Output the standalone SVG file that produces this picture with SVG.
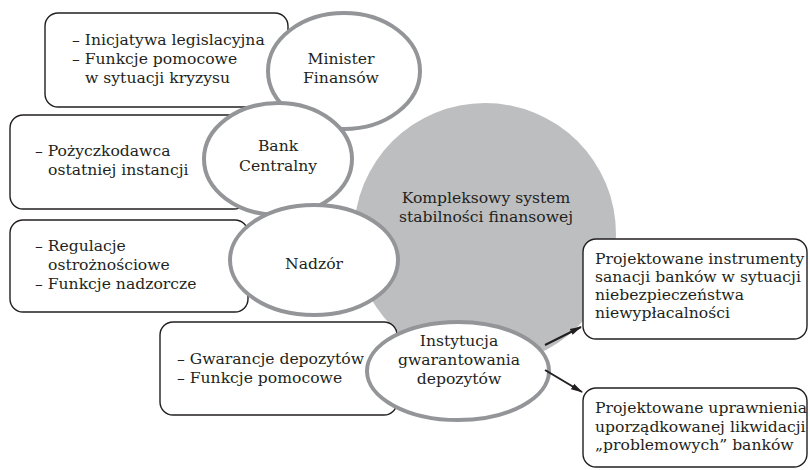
<svg xmlns="http://www.w3.org/2000/svg" width="810" height="470" viewBox="0 0 810 470">
<defs>
<style>
.box{fill:#fff;stroke:#231f20;stroke-width:1.4}
.ell{fill:#fff;stroke:#939598;stroke-width:4}
.big{fill:#bcbec0}
text{font-family:"DejaVu Serif","Liberation Serif",serif;font-size:15.6px;fill:#231f20}
.c{text-anchor:middle}
.conn{stroke:#231f20;stroke-width:2;fill:none}
</style>
<marker id="arr" markerWidth="12" markerHeight="8" refX="11" refY="4" orient="auto" markerUnits="userSpaceOnUse">
<path d="M0,0.8 L12,4 L0,7.2 z" fill="#231f20"/>
</marker>
</defs>
<rect width="810" height="470" fill="#fff"/>

<g id="system">
<circle class="big" cx="485" cy="234" r="131"/>
<text class="c" x="486" y="203">Kompleksowy system</text>
<text class="c" x="486" y="222">stabilności finansowej</text>
</g>

<g id="box-minister">
<rect class="box" x="45" y="13" width="243" height="94" rx="13"/>
<text x="72" y="45">– Inicjatywa legislacyjna</text>
<text x="72" y="64">– Funkcje pomocowe</text>
<text x="85" y="83">w sytuacji kryzysu</text>
</g>

<g id="box-bank">
<rect class="box" x="10" y="115" width="237" height="94" rx="13"/>
<text x="35" y="156">– Pożyczkodawca</text>
<text x="48" y="175">ostatniej instancji</text>
</g>

<g id="box-nadzor">
<rect class="box" x="10" y="220" width="238" height="92" rx="13"/>
<text x="35" y="251">– Regulacje</text>
<text x="48" y="270">ostrożnościowe</text>
<text x="35" y="289">– Funkcje nadzorcze</text>
</g>

<g id="box-instytucja">
<rect class="box" x="160" y="322" width="237" height="93" rx="13"/>
<text x="177" y="364">– Gwarancje depozytów</text>
<text x="177" y="383">– Funkcje pomocowe</text>
</g>

<g id="minister">
<ellipse class="ell" cx="344" cy="71" rx="76" ry="58"/>
<text class="c" x="341" y="64">Minister</text>
<text class="c" x="341" y="83">Finansów</text>
</g>

<g id="bank">
<ellipse class="ell" cx="278" cy="159" rx="74" ry="56"/>
<text class="c" x="278" y="151">Bank</text>
<text class="c" x="278" y="171">Centralny</text>
</g>

<g id="nadzor">
<ellipse class="ell" cx="314" cy="260" rx="84" ry="55"/>
<text class="c" x="314" y="269">Nadzór</text>
</g>

<g id="instytucja">
<ellipse class="ell" cx="458" cy="371" rx="91" ry="49"/>
<text class="c" x="459" y="346">Instytucja</text>
<text class="c" x="459" y="365">gwarantowania</text>
<text class="c" x="459" y="384">depozytów</text>
</g>

<g id="sanacja">
<rect class="box" x="583" y="239" width="224" height="100" rx="13"/>
<text x="595" y="264">Projektowane instrumenty</text>
<text x="595" y="282">sanacji banków w sytuacji</text>
<text x="595" y="300">niebezpieczeństwa</text>
<text x="595" y="318">niewypłacalności</text>
</g>

<g id="likwidacja">
<rect class="box" x="583" y="388" width="224" height="79" rx="13"/>
<text x="595" y="413">Projektowane uprawnienia</text>
<text x="595" y="432">uporządkowanej likwidacji</text>
<text x="595" y="450">„problemowych” banków</text>
</g>

<g id="connectors">
<line class="conn" x1="545" y1="345" x2="581" y2="327" marker-end="url(#arr)"/>
<line class="conn" x1="545" y1="370" x2="582" y2="392" marker-end="url(#arr)"/>
</g>
</svg>
